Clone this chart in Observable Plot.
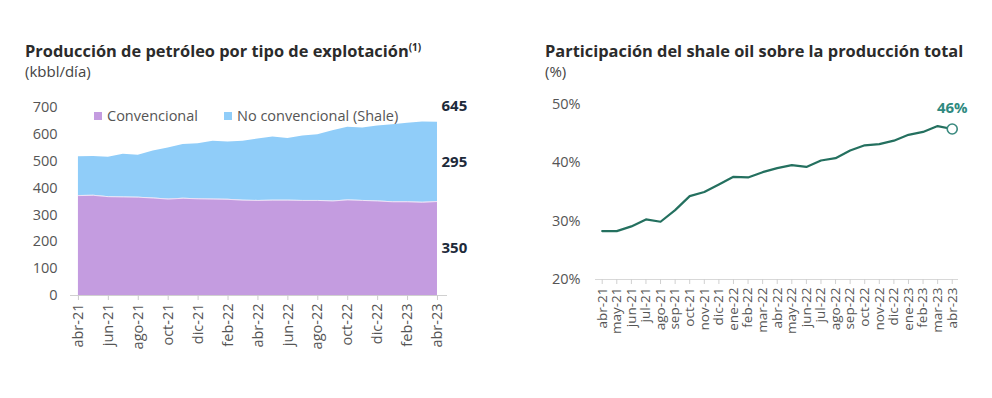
<!DOCTYPE html>
<html><head><meta charset="utf-8">
<script src="https://cdn.jsdelivr.net/npm/d3@7"></script>
<script src="https://cdn.jsdelivr.net/npm/@observablehq/plot@0.6"></script>
<style>
body{margin:0;background:#fff;width:992px;height:398px;overflow:hidden;font-family:"Open Sans",sans-serif;position:relative}
.title{position:absolute;font-weight:700;font-size:16.4px;color:#2b2b2b;white-space:nowrap}
.title sup{font-size:10px}
.sub{position:absolute;font-size:15px;color:#444}
#left{position:absolute;left:20px;top:90px}
#right{position:absolute;left:530px;top:90px}
.legend{position:absolute;top:106px;font-size:14.5px;color:#555;display:flex;align-items:center;white-space:nowrap}
.sw{display:inline-block;width:8px;height:8px;margin-right:5px}
</style></head><body>
<div class="title" style="left:25px;top:39px">Producción de petróleo por tipo de explotación<sup>(1)</sup></div>
<div class="sub" style="left:25px;top:61px">(kbbl/día)</div>
<div class="title" style="left:545px;top:39px">Participación del shale oil sobre la producción total</div>
<div class="sub" style="left:545px;top:61px">(%)</div>
<div id="left"></div>
<div id="right"></div>
<div id="legend1" class="legend" style="left:94px"></div>
<div id="legend2" class="legend" style="left:224px"></div>
<script>
const months = ["abr-21","may-21","jun-21","jul-21","ago-21","sep-21","oct-21","nov-21","dic-21","ene-22","feb-22","mar-22","abr-22","may-22","jun-22","jul-22","ago-22","sep-22","oct-22","nov-22","dic-22","ene-23","feb-23","mar-23","abr-23"];
const conventional = [372,373,368,367,366,363,359,362,360,359,358,355,354,355,355,354,354,352,356,354,352,349,349,347,350];
const shale = [145,145,147,159,156,175,190,200,205,215,214,219,229,235,230,240,245,261,270,270,279,287,292,299,295];
const shareShale = [28.3,28.3,29.1,30.3,29.9,31.9,34.3,35.0,36.3,37.6,37.5,38.4,39.1,39.6,39.3,40.4,40.8,42.1,43.0,43.2,43.8,44.8,45.3,46.3,45.8];
const seriesNames = ["Convencional","No convencional (Shale)"];
const seriesColors = ["#c49ce0","#90cdf9"];
const leftTicks = [0,100,200,300,400,500,600,700];
const rightTicks = [20,30,40,50];

const rows = [];
months.forEach((m,i)=>{
  rows.push({i, serie: seriesNames[0], value: conventional[i]});
  rows.push({i, serie: seriesNames[1], value: shale[i]});
});
const last = months.length - 1;
const total = conventional[last] + shale[last];
const bandLabels = [
  {v: shale[last], y: conventional[last] + shale[last]/2},
  {v: conventional[last], y: conventional[last]/2}
];
const endStyle = {x: () => last, dx: 4, textAnchor: "start", fontWeight: 700, fontSize: 15, fill: "#1d2a3a"};

const left = Plot.plot({
  width: 460, height: 275,
  marginLeft: 50, marginRight: 33, marginTop: 17, marginBottom: 70,
  style: {fontFamily: "'Open Sans', sans-serif", background: "transparent"},
  x: {domain: [-0.53, 24.67], label: null},
  y: {domain: [0, 700], label: null},
  color: {domain: seriesNames, range: seriesColors},
  marks: [
    Plot.areaY(rows, {x: "i", y: "value", fill: "serie", order: seriesNames, curve: "linear"}),
    Plot.lineY(conventional.map((v,i)=>({i,v})), {x: "i", y: "v", stroke: "#ffffff", strokeOpacity: 0.7, strokeWidth: 1}),
    Plot.ruleY([0], {stroke: "#d0d0d0"}),
    Plot.axisY({ticks: leftTicks, tickSize: 0, tickPadding: 13, fontSize: 14.5, fill: "#555", label: null}),
    Plot.axisX({ticks: d3.range(0, 25, 2), tickFormat: i => months[i], tickRotate: -90, tickSize: 5, tickPadding: 3, fontSize: 14.5, stroke: "#cccccc", fill: "#555", label: null}),
    Plot.text([{v: total, y: total}], {...endStyle, y: "y", dy: -16, text: d => String(d.v)}),
    Plot.text(bandLabels, {...endStyle, y: "y", text: d => String(d.v)})
  ]
});
document.getElementById("left").append(left);

const shareRows = shareShale.map((v,i)=>({i, v}));
const right = Plot.plot({
  width: 450, height: 275,
  marginLeft: 65, marginRight: 22, marginTop: 14, marginBottom: 86,
  style: {fontFamily: "'Open Sans', sans-serif", background: "transparent"},
  x: {domain: [-0.46, 24.43], label: null},
  y: {domain: [20, 50], label: null},
  marks: [
    Plot.ruleY([20], {stroke: "#d8d8d8"}),
    Plot.axisY({ticks: rightTicks, tickFormat: d => d + "%", tickSize: 0, tickPadding: 15, fontSize: 14.5, fill: "#555", label: null}),
    Plot.axisX({ticks: d3.range(0, 25), tickFormat: i => months[i], tickRotate: -90, tickSize: 5, tickPadding: 3, fontSize: 13.5, stroke: "#d0d0d0", fill: "#555", label: null}),
    Plot.lineY(shareRows, {x: "i", y: "v", stroke: "#24705f", strokeWidth: 2.2}),
    Plot.dot([shareRows[last]], {x: "i", y: "v", r: 5, fill: "#fff", stroke: "#3a8a7f", strokeWidth: 1.6}),
    Plot.text([shareRows[last]], {x: "i", y: "v", dy: -21, text: d => Math.round(d.v) + "%", fontWeight: 700, fontSize: 15, fill: "#2f8a80"})
  ]
});
document.getElementById("right").append(right);

const lg = [document.getElementById("legend1"), document.getElementById("legend2")];
seriesNames.forEach((n,k)=>{
  const sw = document.createElement("span"); sw.className = "sw"; sw.style.background = seriesColors[k];
  lg[k].append(sw, document.createTextNode(n));
});
</script>
</body></html>
